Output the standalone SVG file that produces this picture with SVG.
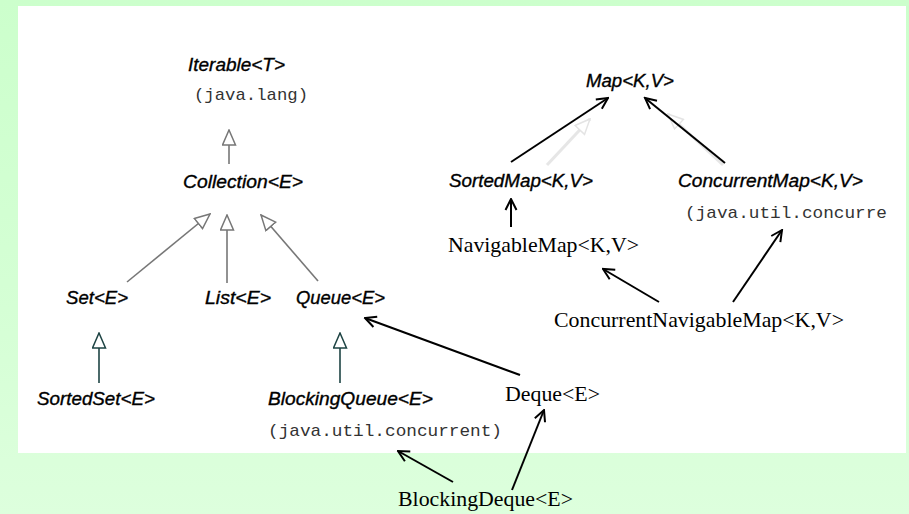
<svg xmlns="http://www.w3.org/2000/svg" width="909" height="514" viewBox="0 0 909 514">
<defs>
<linearGradient id="bg" x1="0" y1="0" x2="0" y2="1">
<stop offset="0" stop-color="#ccffcc"/>
<stop offset="0.55" stop-color="#d4ffd4"/>
<stop offset="1" stop-color="#ddffdd"/>
</linearGradient>
<marker id="tri" viewBox="0 0 17 15" refX="16" refY="7.5" markerWidth="17" markerHeight="15" markerUnits="userSpaceOnUse" orient="auto">
<path d="M1,1 L16,7.5 L1,14 Z" fill="#fff" stroke="#777" stroke-width="1.5"/>
</marker>
<marker id="triT" viewBox="0 0 17 15" refX="16" refY="7.5" markerWidth="17" markerHeight="15" markerUnits="userSpaceOnUse" orient="auto">
<path d="M1,1 L16,7.5 L1,14 Z" fill="#fff" stroke="#1e4444" stroke-width="1.5"/>
</marker>
<marker id="triG" viewBox="0 0 17 15" refX="16" refY="7.5" markerWidth="17" markerHeight="15" markerUnits="userSpaceOnUse" orient="auto">
<path d="M1,1 L16,7.5 L1,14 Z" fill="#fff" stroke="#e4e4e4" stroke-width="1.5"/>
</marker>
<marker id="open" viewBox="0 0 14 14" refX="12.5" refY="7" markerWidth="14" markerHeight="14" markerUnits="userSpaceOnUse" orient="auto">
<path d="M1.5,1.5 L12.5,7 L1.5,12.5" fill="none" stroke="#000" stroke-width="2"/>
</marker>
</defs>
<style>
.h{font-family:"Liberation Sans",Arial,sans-serif;font-style:italic;font-size:18px;fill:#000;stroke:#000;stroke-width:0.35}
.m{font-family:"Liberation Mono","Courier New",monospace;font-size:17px;fill:#333}
.t{font-family:"Liberation Serif","Times New Roman",serif;font-size:21px;fill:#000}
.g{stroke:#777;stroke-width:1.6;fill:none}
.tl{stroke:#1e4444;stroke-width:1.6;fill:none}
.b{stroke:#000;stroke-width:2;fill:none}
.f{stroke:#e6e6e6;stroke-width:3;fill:none}
</style>
<rect x="0" y="0" width="909" height="514" fill="url(#bg)"/>
<rect x="18" y="6" width="888" height="447" fill="#fff"/>
<g id="connectors">
<path class="f" d="M547,165 L590,119" marker-end="url(#triG)"/>
<path class="f" d="M723,165 L668,114" marker-end="url(#triG)"/>
<path class="g" d="M229,164 L229,130" marker-end="url(#tri)"/>
<path class="g" d="M127,282 L210,214" marker-end="url(#tri)"/>
<path class="g" d="M227,283 L227,215" marker-end="url(#tri)"/>
<path class="g" d="M318,281 L261,215" marker-end="url(#tri)"/>
<path class="tl" d="M99,383 L99,333" marker-end="url(#triT)"/>
<path class="tl" d="M340,383 L340,333" marker-end="url(#triT)"/>
<path class="b" d="M520,375 L365,318" marker-end="url(#open)"/>
<path class="b" d="M512,490 L544,410" marker-end="url(#open)"/>
<path class="b" d="M453,482 L398,451" marker-end="url(#open)"/>
<path class="b" d="M659,302 L603,269" marker-end="url(#open)"/>
<path class="b" d="M733,302 L782,230" marker-end="url(#open)"/>
<path class="b" d="M511,227 L511,199" marker-end="url(#open)"/>
<path class="b" d="M511,162 L608,98" marker-end="url(#open)"/>
<path class="b" d="M725,163 L645,98" marker-end="url(#open)"/>
</g>
<g id="iterable"><text class="h" x="188" y="71" textLength="97" lengthAdjust="spacingAndGlyphs">Iterable&lt;T&gt;</text><text class="m" x="194" y="100" textLength="114" lengthAdjust="spacingAndGlyphs">(java.lang)</text></g>
<g id="collection"><text class="h" x="183" y="188" textLength="120" lengthAdjust="spacingAndGlyphs">Collection&lt;E&gt;</text></g>
<g id="set"><text class="h" x="66" y="304" textLength="62" lengthAdjust="spacingAndGlyphs">Set&lt;E&gt;</text></g>
<g id="list"><text class="h" x="205" y="304" textLength="66" lengthAdjust="spacingAndGlyphs">List&lt;E&gt;</text></g>
<g id="queue"><text class="h" x="296" y="304" textLength="89" lengthAdjust="spacingAndGlyphs">Queue&lt;E&gt;</text></g>
<g id="sortedset"><text class="h" x="37" y="405" textLength="118" lengthAdjust="spacingAndGlyphs">SortedSet&lt;E&gt;</text></g>
<g id="blockingqueue"><text class="h" x="268" y="405" textLength="165" lengthAdjust="spacingAndGlyphs">BlockingQueue&lt;E&gt;</text><text class="m" x="268" y="436" textLength="234" lengthAdjust="spacingAndGlyphs">(java.util.concurrent)</text></g>
<g id="map"><text class="h" x="586" y="87" textLength="88" lengthAdjust="spacingAndGlyphs">Map&lt;K,V&gt;</text></g>
<g id="sortedmap"><text class="h" x="449" y="187" textLength="144" lengthAdjust="spacingAndGlyphs">SortedMap&lt;K,V&gt;</text></g>
<g id="concurrentmap"><text class="h" x="678" y="187" textLength="185" lengthAdjust="spacingAndGlyphs">ConcurrentMap&lt;K,V&gt;</text><text class="m" x="685" y="218" textLength="202" lengthAdjust="spacingAndGlyphs">(java.util.concurre</text></g>
<g id="navigablemap"><text class="t" x="448" y="252" textLength="191" lengthAdjust="spacingAndGlyphs">NavigableMap&lt;K,V&gt;</text></g>
<g id="concurrentnavigablemap"><text class="t" x="554" y="327" textLength="290" lengthAdjust="spacingAndGlyphs">ConcurrentNavigableMap&lt;K,V&gt;</text></g>
<g id="deque"><text class="t" x="505" y="401" textLength="95" lengthAdjust="spacingAndGlyphs">Deque&lt;E&gt;</text></g>
<g id="blockingdeque"><text class="t" x="398" y="506" textLength="175" lengthAdjust="spacingAndGlyphs">BlockingDeque&lt;E&gt;</text></g>
</svg>
